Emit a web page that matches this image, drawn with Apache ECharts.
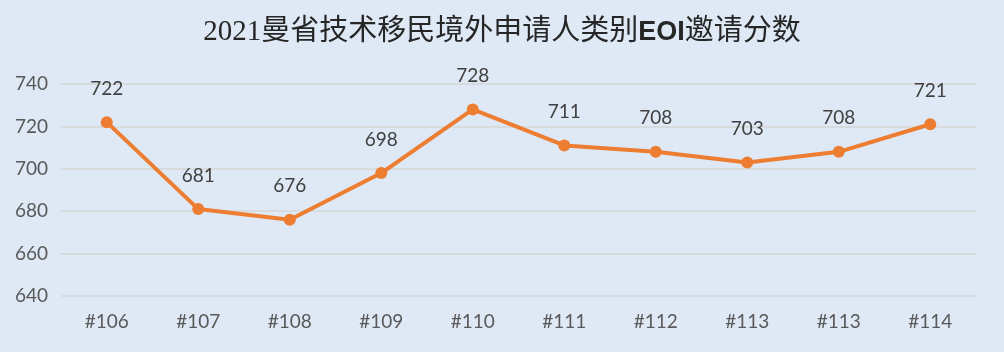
<!DOCTYPE html>
<html>
<head>
<meta charset="utf-8">
<script src="https://cdn.jsdelivr.net/npm/echarts@6/dist/echarts.min.js"></script>
<style>
  html, body { margin: 0; padding: 0; }
  #chart { width: 1004px; height: 352px; }
</style>
</head>
<body>
<div id="chart"></div>
<script>
// 各轮次编号（原图中#113出现两次）
const draws = ['#106', '#107', '#108', '#109', '#110', '#111', '#112', '#113', '#113', '#114'];
// EOI邀请分数
const scores = [722, 681, 676, 698, 728, 711, 708, 703, 708, 721];

const chart = echarts.init(document.getElementById('chart'));
const labelFont = 'Lato, "Open Sans", sans-serif';
const option = {
  backgroundColor: '#dee9f5',
  title: {
    text: '2021曼省技术移民境外申请人类别{b|EOI}邀请分数',
    left: 'center',
    top: 13,
    textStyle: {
      fontFamily: '"Liberation Serif", "Noto Sans CJK SC", serif',
      fontSize: 29,
      fontWeight: 'normal',
      color: '#262626',
      rich: {
        b: {
          fontFamily: '"Liberation Sans", Arial, sans-serif',
          fontWeight: 'bold',
          fontSize: 27,
          color: '#262626'
        }
      }
    }
  },
  grid: { left: 61, right: 28, top: 84, bottom: 56 },
  xAxis: {
    type: 'category',
    data: draws,
    boundaryGap: true,
    axisLine: { show: false },
    axisTick: { show: false },
    axisLabel: {
      margin: 16,
      fontSize: 19,
      fontFamily: labelFont,
      color: '#595959'
    }
  },
  yAxis: {
    type: 'value',
    min: 640,
    max: 740,
    interval: 20,
    axisLine: { show: false },
    axisTick: { show: false },
    axisLabel: {
      margin: 13,
      fontSize: 19,
      fontFamily: labelFont,
      color: '#595959'
    },
    splitLine: { lineStyle: { color: '#d6d6d6', width: 1.5 } }
  },
  series: [
    {
      name: 'EOI',
      type: 'line',
      data: scores,
      symbol: 'circle',
      symbolSize: 12,
      lineStyle: { color: '#ed7d31', width: 4 },
      itemStyle: { color: '#ed7d31' },
      label: {
        show: true,
        position: 'top',
        distance: 18,
        fontSize: 19,
        fontFamily: labelFont,
        color: '#404040'
      }
    }
  ]
};
chart.setOption(option);
</script>
</body>
</html>
